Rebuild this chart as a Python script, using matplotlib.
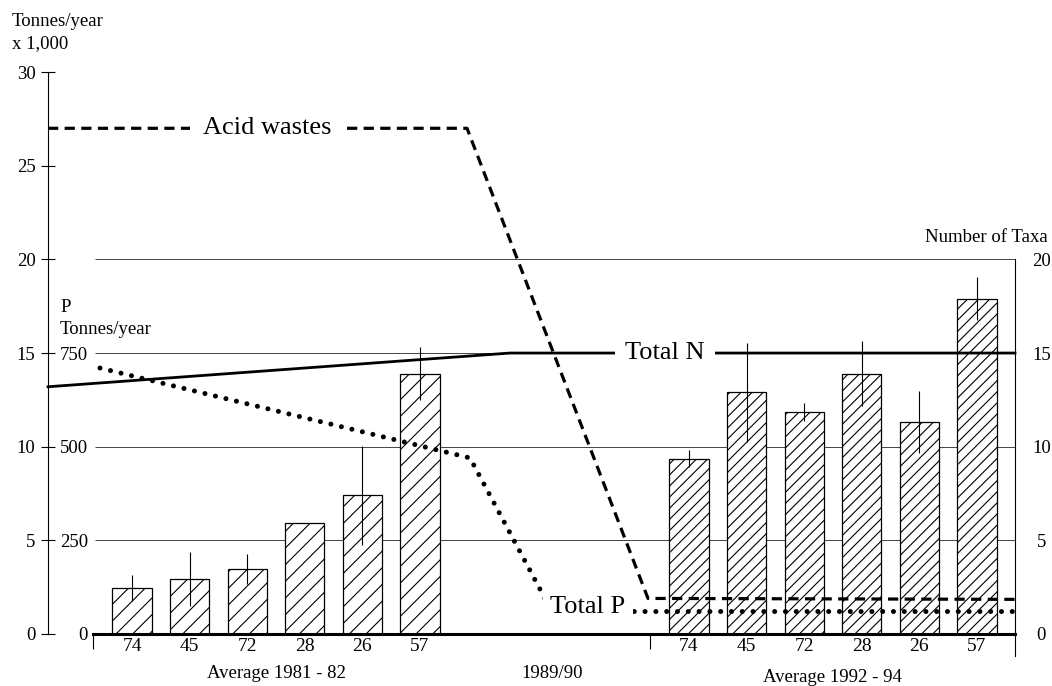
import matplotlib
matplotlib.use("Agg")
import matplotlib.pyplot as plt

plt.rcParams['font.family'] = ['Liberation Serif', 'DejaVu Serif']
plt.rcParams['hatch.linewidth'] = 0.8

# number of taxa per site, two survey periods
sites = ["74", "45", "72", "28", "26", "57"]
taxa_8182 = [2.45, 2.95, 3.45, 5.9, 7.4, 13.9]
err_8182 = [0.7, 1.45, 0.8, 0.0, 2.65, 1.4]
taxa_9294 = [9.35, 12.9, 11.85, 13.9, 11.3, 17.9]
err_9294 = [0.45, 2.65, 0.5, 1.75, 1.65, 1.15]

# loads (x = position along the time axis, in bar slots)
acid_x = [-0.458, 6.816, 9.958, 16.33]
acid_kt = [27.0, 27.0, 1.9, 1.85]          # tonnes/year x 1,000
nitro_x = [-0.458, 7.56, 16.33]
nitro_kt = [13.2, 15.0, 15.0]              # tonnes/year x 1,000
phos_x = [0.444, 6.868, 8.29, 16.33]
phos_t = [710, 470, 60, 60]                # P tonnes/year

left_ticks = [0, 5, 10, 15, 20, 25, 30]
p_ticks = [0, 250, 500, 750]
taxa_ticks = [0, 5, 10, 15, 20]
grid_levels = [5, 10, 15, 20]

W, H = 1052, 686


def fx(px):
    return 1 + (px - 132) / 57.6


def fig_xy(px, py):
    return px / W, 1 - py / H


fig = plt.figure(figsize=(W / 100, H / 100), dpi=100)
ylo, yhi = -1.5, 31
unit = 18.73
bot = (H - (634 + -ylo * unit)) / H
top = (H - (634 - yhi * unit)) / H
ax = fig.add_axes([0, bot, 1, top - bot])
ax.set_xlim(fx(0), fx(W))
ax.set_ylim(ylo, yhi)
ax.patch.set_visible(False)

x_left_axis = fx(48)
x_base0 = fx(93)
x_sep = fx(650)
x_right_axis = fx(1015)

pos_a = [1 + i for i in range(len(sites))]
pos_b = [fx(689) + i for i in range(len(sites))]

# grid
ax.hlines(grid_levels, fx(95), x_right_axis, colors='#444444', lw=0.7, zorder=0.5)

# bars
ax.bar(pos_a, taxa_8182, width=0.68, color='white', edgecolor='black', lw=0.9,
       hatch='//', zorder=2)
ax.bar(pos_b, taxa_9294, width=0.68, color='white', edgecolor='black', lw=0.9,
       hatch='///', zorder=2)
ax.errorbar(pos_a, taxa_8182, yerr=err_8182, fmt='none', ecolor='black',
            elinewidth=0.8, capsize=0, zorder=3)
ax.errorbar(pos_b, taxa_9294, yerr=err_9294, fmt='none', ecolor='black',
            elinewidth=0.8, capsize=0, zorder=3)

# lines
ax.plot(acid_x, acid_kt, color='black', lw=2.3, linestyle=(0, (3.2, 2.0)), zorder=4)
ax.plot(nitro_x, nitro_kt, color='black', lw=2.0, zorder=4)

ax.text(fx(267), 27.0, "Acid wastes", fontsize=19, ha='center', va='center', zorder=6,
        bbox=dict(boxstyle='square,pad=0.5', fc='white', ec='none'))
ax.text(fx(665), 15.0, "Total N", fontsize=19, ha='center', va='center', zorder=6,
        bbox=dict(boxstyle='square,pad=0.37', fc='white', ec='none'))

# left axis
for s in ['top', 'right']:
    ax.spines[s].set_visible(False)
ax.spines['left'].set_position(('data', x_left_axis))
ax.spines['left'].set_bounds(0, 30)
ax.spines['left'].set_linewidth(0.8)
ax.spines['bottom'].set_position(('data', 0))
ax.spines['bottom'].set_bounds(x_base0, x_right_axis)
ax.spines['bottom'].set_linewidth(2.2)
ax.set_yticks(left_ticks)
ax.tick_params(axis='y', direction='inout', length=10, width=0.8, labelsize=13.5, pad=4)
ax.set_xticks(pos_a + pos_b)
ax.set_xticklabels(sites + sites)
ax.tick_params(axis='x', which='major', length=0, labelsize=14, pad=3)
ax.set_xticks([x_base0, x_sep], minor=True)
ax.tick_params(axis='x', which='minor', direction='out', length=11, width=0.8)

# P axis (inner)
ax3 = ax.twinx()
ax3.set_ylim(ylo * 50, yhi * 50)
for s in ax3.spines.values():
    s.set_visible(False)
ax3.spines['left'].set_position(('data', fx(92)))
ax3.yaxis.set_ticks_position('left')
ax3.yaxis.set_label_position('left')
ax3.set_yticks(p_ticks)
ax3.tick_params(axis='y', length=0, labelsize=13.5, pad=3)
ax3.plot(phos_x, phos_t, color='black', lw=3.6, linestyle=(0, (0.01, 2.15)),
         dash_capstyle='round', zorder=4)
ax3.text(fx(588), 72, "Total P", fontsize=19, ha='center', va='center', zorder=6,
         bbox=dict(boxstyle='square,pad=0.3', fc='white', ec='none'))

# right axis (number of taxa)
ax2 = ax.twinx()
ax2.set_ylim(ylo, yhi)
for s in ['left', 'top', 'bottom']:
    ax2.spines[s].set_visible(False)
ax2.spines['right'].set_position(('data', x_right_axis))
ax2.spines['right'].set_bounds(-1.15, 20)
ax2.spines['right'].set_linewidth(0.8)
ax2.set_yticks(taxa_ticks)
ax2.tick_params(axis='y', length=0, labelsize=13.5, pad=19)
for lab in ax2.get_yticklabels():
    lab.set_horizontalalignment('center')

# text labels
fig.text(*fig_xy(12, 22), "Tonnes/year", fontsize=13.5, ha='left', va='center')
fig.text(*fig_xy(12, 44), "x 1,000", fontsize=13.5, ha='left', va='center')
fig.text(*fig_xy(60, 307), "P", fontsize=13.5, ha='left', va='center')
fig.text(*fig_xy(60, 330), "Tonnes/year", fontsize=13.5, ha='left', va='center')
fig.text(*fig_xy(1048, 238), "Number of Taxa", fontsize=13.5, ha='right', va='center')
fig.text(*fig_xy(276, 674), "Average 1981 - 82", fontsize=13.5, ha='center', va='center')
fig.text(*fig_xy(552, 673), "1989/90", fontsize=13.5, ha='center', va='center')
fig.text(*fig_xy(832, 677), "Average 1992 - 94", fontsize=13.5, ha='center', va='center')

fig.savefig("out.png", dpi=100)
